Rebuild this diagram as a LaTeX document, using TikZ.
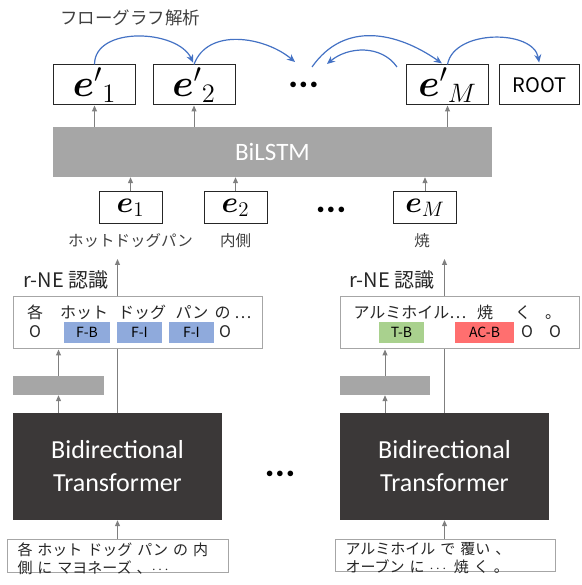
\documentclass[tikz,border=0pt]{standalone}
\usepackage{amsmath}
\usepackage{bm}
\usepackage{graphicx}
\usepackage{fontspec}
\setmainfont{Carlito}
\newfontfamily\jp{Noto Sans CJK JP}
\usetikzlibrary{positioning, arrows.meta}
\usepackage{xcolor}
\definecolor{arrgray}{HTML}{7F7F7F}
\definecolor{flowblue}{HTML}{4472C4}
\definecolor{lstmgray}{HTML}{A6A6A6}
\definecolor{trdark}{HTML}{3B3838}
\definecolor{tagblue}{HTML}{8FAADC}
\definecolor{taggreen}{HTML}{A9D18E}
\definecolor{tagred}{HTML}{FF6F6F}
\definecolor{txtgray}{HTML}{404040}

\begin{document}
\begin{tikzpicture}[x=1pt, y=1pt,
    grayarr/.style={draw=arrgray, line width=1pt, -{Triangle[length=6pt,width=5pt]}},
    flow/.style={draw=flowblue, line width=1.2pt, -{Stealth[length=8pt,width=7pt]}},
    vecbox/.style={draw=black!85, line width=1pt, fill=white, minimum width=82pt, minimum height=40pt, inner sep=0pt, font=\fontsize{20}{20}\selectfont},
    embbox/.style={vecbox, minimum width=63pt, minimum height=32pt},
    lbl/.style={inner sep=0pt, text=txtgray, font=\jp\fontsize{15.5}{16}\selectfont},
    nertitle/.style={inner sep=0pt, text=black!85, font=\jp\fontsize{20}{20}\selectfont},
    nerbox/.style={draw=lstmgray, line width=1pt, fill=white, minimum height=52pt, inner sep=0pt},
    tag/.style={minimum width=45pt, minimum height=21pt, inner sep=0pt, text height=9.5pt, text depth=0pt, font=\jp\fontsize{14}{14}\selectfont},
    tok/.style={inner sep=0pt, anchor=base, text=black!85, font=\jp\fontsize{16}{16}\selectfont},
    trbox/.style={fill=trdark, minimum width=209pt, minimum height=107pt, align=center, text=white, font=\fontsize{26}{33}\selectfont},
    smallbar/.style={fill=lstmgray, minimum width=91pt, minimum height=19pt, inner sep=0pt},
    inbox/.style={draw=lstmgray, line width=1pt, fill=white, anchor=north west, align=left, text width=201pt, inner xsep=10pt, inner ysep=3pt, text depth=14pt, text=black!85, font=\jp\fontsize{15}{18}\selectfont},
    bigdots/.style={inner sep=0pt, font=\fontsize{15}{15}\selectfont}
]
\useasboundingbox (0,0) rectangle (581,585);

\node[font=\jp\fontsize{17.5}{18}\selectfont, text=txtgray] (title) at (130,567) {フローグラフ解析};

\node[fill=lstmgray, minimum width=439pt, minimum height=50pt, text=white, font=\fontsize{25}{25}\selectfont] (lstm) at (272.5,433) {BiLSTM};

\node[vecbox] (ep1) at (94.5,500) {\scalebox{1.85}{${\bm{e}'}_{1}$}};
\node[vecbox] (ep2) at (194,500) {\scalebox{1.85}{${\bm{e}'}_{2}$}};
\node[bigdots] (dt1) at (303.5,500) {$\bullet\bullet\bullet$};
\node[vecbox] (epM) at (447.5,500) {\scalebox{1.85}{${\bm{e}'}_{M}$}};
\node[vecbox, minimum width=80pt, font=\jp\fontsize{20}{20}\selectfont] (root) at (539.5,500) {ROOT};

\coordinate (f1) at (295,523);
\coordinate (f2) at (312,518);
\coordinate (f3) at (397,518);
\coordinate (f4) at (327,521);
\draw[flow, shorten >=2pt] (ep1.north) to[out=90, in=115] (ep2.north);
\draw[flow] (ep2.north) to[out=70, in=140] (f1);
\draw[flow, shorten >=2pt] (f2) to[out=55, in=145, looseness=1.1] ([xshift=-4pt]epM.north);
\draw[flow] (f3) to[out=125, in=40] (f4);
\draw[flow, shorten >=2pt] (epM.north) to[out=80, in=100] (root.north);

\draw[grayarr] (lstm.north -| ep1) -- (ep1.south);
\draw[grayarr] (lstm.north -| ep2) -- (ep2.south);
\draw[grayarr] (lstm.north -| epM) -- (epM.south);

\node[embbox] (e1) at (130.5,377) {\scalebox{1.45}{$\bm{e}_{1}$}};
\node[embbox] (e2) at (235.5,377) {\scalebox{1.45}{$\bm{e}_{2}$}};
\node[bigdots] (dt2) at (331,375) {$\bullet\bullet\bullet$};
\node[embbox] (eM) at (425,377) {\scalebox{1.45}{$\bm{e}_{M}$}};
\node[lbl, below=9pt of e1] (l1) {ホットドッグパン};
\node[lbl, below=9pt of e2] (l2) {内側};
\node[lbl, below=9pt of eM, xshift=-3pt] (lM) {焼};

\draw[grayarr] (e1.north) -- (e1.north |- lstm.south);
\draw[grayarr] (e2.north) -- (e2.north |- lstm.south);
\draw[grayarr] (eM.north) -- (eM.north |- lstm.south);

\node[trbox] (tr1) at (117.5,118.5) {Bidirectional\\Transformer};
\node[trbox] (tr2) at (444.5,118.5) {Bidirectional\\Transformer};
\node[bigdots] (dt3) at (280,111) {$\bullet\bullet\bullet$};

\coordinate (t1) at (117.5,326);
\coordinate (t2) at (444.5,326);
\draw[grayarr] (tr1.north) -- (t1);
\draw[grayarr] (tr2.north) -- (t2);

\node[nertitle] (n1) at (66,305) {r-NE 認識};
\node[nertitle] (n2) at (392,305) {r-NE 認識};

% left r-NE tags
\node[nerbox, minimum width=249pt] (ner1) at (137.5,262) {};
\node[tok] (w1) at (35,266) {各};
\node[tok] (w2) at (84,266) {ホット};
\node[tok] (w3) at (142,266) {ドッグ};
\node[tok] (w4) at (192,266) {パン};
\node[tok] (w5) at (233,266) {の …};
\node[tok] (o1) at (35,247) {O};
\node[tag, fill=tagblue, minimum width=46pt] (g1) at (87,252.5) {F-B};
\node[tag, fill=tagblue] (g2) at (139.5,252.5) {F-I};
\node[tag, fill=tagblue] (g3) at (191.5,252.5) {F-I};
\node[tok] (o2) at (225,247) {O};

% right r-NE tags
\node[nerbox, minimum width=239pt] (ner2) at (459.5,262) {};
\node[tok] (v1) at (410,266) {アルミホイル…};
\node[tok] (v2) at (485,266) {焼};
\node[tok] (v3) at (523,266) {く};
\node[tok] (v4) at (553,266) {。};
\node[tag, fill=taggreen] (g4) at (401.5,252.5) {T-B};
\node[tag, fill=tagred, minimum width=59pt] (g5) at (484.5,252.5) {AC-B};
\node[tok] (o3) at (527,247) {O};
\node[tok] (o4) at (555,247) {O};

\node[smallbar] (sb1) at (58.5,199.5) {};
\node[smallbar, minimum width=90pt] (sb2) at (385,199.5) {};
\draw[grayarr] (tr1.north -| sb1) -- (sb1.south);
\draw[grayarr] (sb1.north) -- (sb1.north |- ner1.south);
\draw[grayarr] (tr2.north -| sb2) -- (sb2.south);
\draw[grayarr] (sb2.north) -- (sb2.north |- ner2.south);

\node[inbox] (in1) at (7,46) {各 ホット ドッグ パン の 内\\側 に マヨネーズ 、$\cdots$};
\node[inbox, text width=200pt] (in2) at (335,46) {アルミホイル で 覆い 、\\オーブン に $\cdots$ 焼 く 。};
\draw[grayarr] (in1.north -| tr1) -- (tr1.south);
\draw[grayarr] (in2.north -| tr2) -- (tr2.south);
\end{tikzpicture}
\end{document}
